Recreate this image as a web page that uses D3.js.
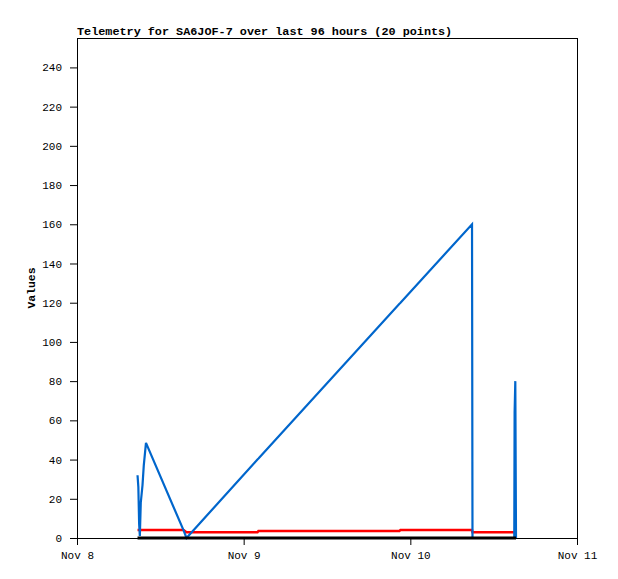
<!DOCTYPE html>
<html>
<head>
<meta charset="utf-8">
<script src="https://cdn.jsdelivr.net/npm/d3@7"></script>
<style>
    body { margin: 0; background: #fff; }
    text { font-family: "Liberation Mono", "DejaVu Sans Mono", monospace; }
</style>
</head>
<body>
<div id="chart"></div>
<script>
// Sample times (20 points)
const times = [
    '2024-11-08 08:43', '2024-11-08 08:50', '2024-11-08 08:57', '2024-11-08 09:03',
    '2024-11-08 09:11', '2024-11-08 09:26', '2024-11-08 09:37', '2024-11-08 09:56',
    '2024-11-08 15:20', '2024-11-08 15:46', '2024-11-09 01:59', '2024-11-09 02:08',
    '2024-11-09 22:26', '2024-11-09 22:35', '2024-11-10 08:53', '2024-11-10 08:57',
    '2024-11-10 14:58', '2024-11-10 15:01', '2024-11-10 15:07', '2024-11-10 15:13'
];
const blueValues = [32, 26, 7, 1, 18, 27, 37, 48.5, 4, 0, 40, 40.5, 119.5, 120, 160, 0, 0, 64, 80, 0];
const redValues = [4.1, 4.1, 4.1, 4.1, 4.1, 4.1, 4.1, 4.1, 4.1, 2.9, 2.9, 3.6, 3.6, 4.1, 4.1, 2.9, 2.9, 2.9, 2.9, 2.9];
const blackValues = [0, 0, 0, 0, 0, 0, 0, 0, 0, 0, 0, 0, 0, 0, 0, 0, 0, 0, 0, 0];
const yTicks = [0, 20, 40, 60, 80, 100, 120, 140, 160, 180, 200, 220, 240];
const xDomain = ['2024-11-08 00:00', '2024-11-11 00:00'];
const title = 'Telemetry for SA6JOF-7 over last 96 hours (20 points)';

const parse = d3.timeParse('%Y-%m-%d %H:%M');
const dates = times.map(parse);

const margin = { top: 38, right: 41, bottom: 41, left: 77 };
const totalW = 618, totalH = 579;
const width = totalW - margin.left - margin.right;
const height = totalH - margin.top - margin.bottom;

const svg = d3.select('#chart').append('svg')
    .attr('width', totalW)
    .attr('height', totalH);

const g = svg.append('g')
    .attr('transform', `translate(${margin.left},${margin.top})`);

const x = d3.scaleTime()
    .domain(xDomain.map(parse))
    .range([0, width]);

const y = d3.scaleLinear()
    .domain([0, 255])
    .range([height, 0]);

// Frame
g.append('rect')
    .attr('x', 0.5).attr('y', 0.5)
    .attr('width', width).attr('height', height)
    .attr('fill', 'none')
    .attr('stroke', '#000')
    .attr('stroke-width', 1);

// Axes
const yAxis = g.append('g')
    .call(d3.axisLeft(y).tickValues(yTicks).tickSize(7).tickSizeOuter(0).tickPadding(8));
const xAxis = g.append('g')
    .attr('transform', `translate(0,${height})`)
    .call(d3.axisBottom(x).ticks(d3.timeDay.every(1)).tickFormat(d3.timeFormat('%b %-d'))
        .tickSize(7).tickSizeOuter(0).tickPadding(6));

[yAxis, xAxis].forEach((a) => {
    a.select('.domain').attr('stroke', '#000');
    a.selectAll('.tick line').attr('stroke', '#000');
    a.selectAll('text')
        .attr('fill', '#000')
        .style('font-family', '"Liberation Mono", monospace')
        .style('font-size', '11px');
});

// Clip
svg.append('clipPath').attr('id', 'plot-clip')
    .append('rect').attr('x', 0).attr('y', -2).attr('width', width).attr('height', height + 4);

const plot = g.append('g').attr('clip-path', 'url(#plot-clip)');

// Draw order: red, blue, then the zero line on top
const series = [
    { values: redValues, color: '#ff0000', width: 2.5 },
    { values: blueValues, color: '#0066cc', width: 2.2 },
    { values: blackValues, color: '#000000', width: 3 }
];

series.forEach((s) => {
    const line = d3.line()
        .x((d, i) => x(dates[i]))
        .y((d) => y(d));
    plot.append('path')
        .datum(s.values)
        .attr('fill', 'none')
        .attr('stroke', s.color)
        .attr('stroke-width', s.width)
        .attr('stroke-linejoin', 'miter')
        .attr('d', line);
});

// Title
svg.append('text')
    .attr('x', margin.left)
    .attr('y', 35)
    .style('font-size', '11.8px')
    .style('font-weight', 'bold')
    .text(title);

// Y label
svg.append('text')
    .attr('transform', `translate(35,${margin.top + height / 2}) rotate(-90)`)
    .attr('text-anchor', 'middle')
    .style('font-size', '11.4px')
    .style('font-weight', 'bold')
    .text('Values');
</script>
</body>
</html>
